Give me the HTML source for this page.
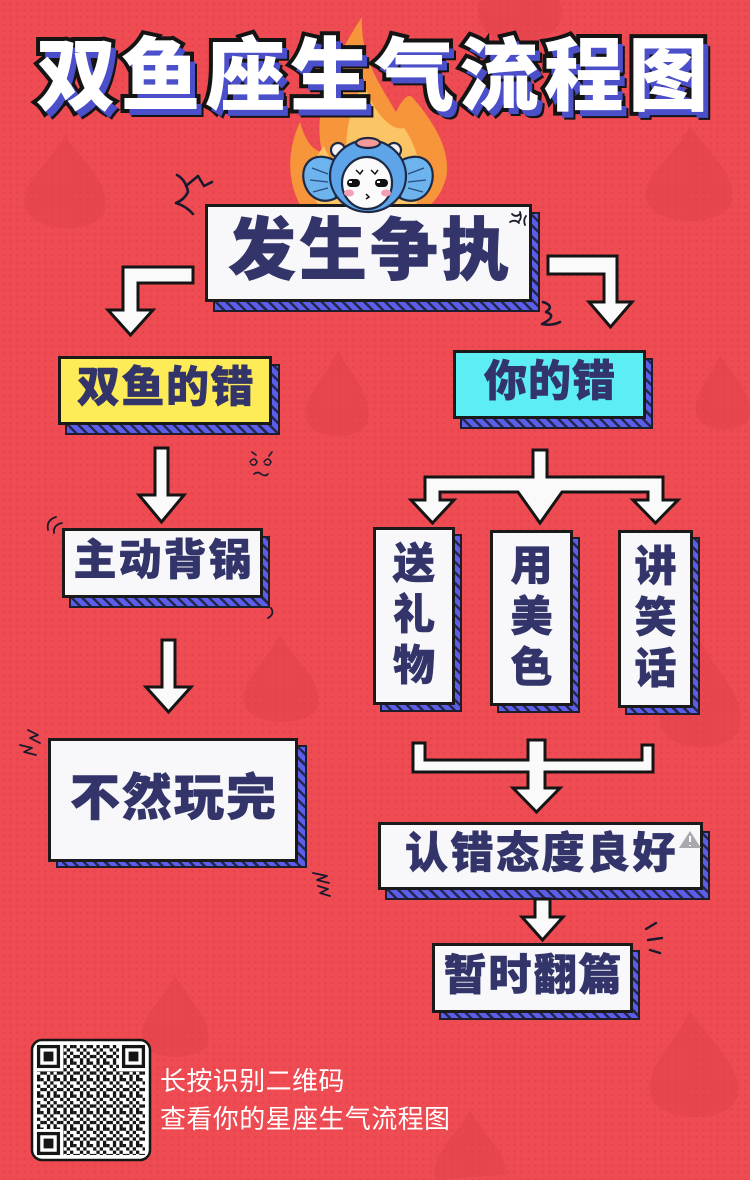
<!DOCTYPE html>
<html><head><meta charset="utf-8">
<style>
*{margin:0;padding:0;box-sizing:border-box}
html,body{width:750px;height:1180px;overflow:hidden}
body{position:relative;background:#EE4B53;font-family:"Liberation Sans","Noto Sans CJK SC",sans-serif}
.dots{position:absolute;left:0;top:0;width:750px;height:1180px;background-image:radial-gradient(circle, rgba(170,25,45,.16) 1px, transparent 1.4px);background-size:7px 7px}
.sh{position:absolute;border:2px solid #1d1d2b;background:repeating-linear-gradient(45deg,#5B5EE8 0 5px,#262650 5px 7.5px)}
.box{position:absolute;border:3px solid #1a1a1a;background:#F8F8FA;display:flex;align-items:center;justify-content:center;color:#33356A;font-weight:900;-webkit-text-stroke:0.6px #33356A;line-height:1;white-space:nowrap}
.box span{display:block;transform:translateY(-2px)}
.vbox{flex-direction:column}
.vbox span{font-size:42px;line-height:51px;height:51px}
svg{position:absolute;left:0;top:0}
.title{position:absolute;left:36px;top:37px;font-size:80px;letter-spacing:4.6px;line-height:1;color:#fff;font-weight:900;-webkit-text-stroke:8px #141414;paint-order:stroke fill;text-shadow:5px 6px 0 #4B4FC9,7px 8px 0 #141414;white-space:nowrap}
.qrt{position:absolute;left:160px;color:#fff;font-size:26px;line-height:1;letter-spacing:0.4px;white-space:nowrap}
</style></head>
<body>
<div class="dots"></div>

<svg width="750" height="1180" viewBox="0 0 750 1180">
  <g fill="#DF414B" opacity="0.42">
    <path d="M65,135 C80,160 110,180 105,210 C100,235 30,235 25,205 C22,180 50,165 65,135Z"/>
    <path d="M690,125 C705,150 735,170 732,200 C728,228 650,228 646,198 C644,172 675,158 690,125Z"/>
    <ellipse cx="520" cy="12" rx="42" ry="32"/>
    <path d="M338,350 C350,375 372,392 368,420 C364,442 310,442 306,418 C303,395 326,378 338,350Z"/>
    <path d="M280,635 C295,660 322,680 318,705 C314,728 248,728 244,702 C241,680 266,662 280,635Z"/>
    <path d="M720,355 C732,375 752,392 750,415 C746,435 700,435 696,412 C694,392 710,378 720,355Z"/>
    <path d="M700,640 C715,670 745,695 740,725 C735,755 665,755 660,722 C657,695 685,675 700,640Z"/>
    <path d="M690,1010 C708,1040 742,1065 738,1095 C733,1125 655,1125 650,1092 C647,1065 675,1045 690,1010Z"/>
    <path d="M470,1110 C482,1135 508,1150 505,1175 L435,1180 C432,1150 458,1135 470,1110Z"/>
    <path d="M175,975 C188,1000 212,1018 208,1042 C204,1062 146,1062 142,1040 C139,1018 162,1002 175,975Z"/>
  </g>
  <path d="M300,205 C286,178 288,148 300,122 C305,140 312,150 322,152 C312,110 332,62 362,17 C360,55 378,82 396,112 C402,100 408,92 413,98 C432,120 452,150 446,178 C442,192 436,200 430,205 Z" fill="#F6953A"/>
  <path d="M318,205 C306,180 314,158 324,146 C330,162 340,168 348,168 C342,134 352,104 364,82 C372,112 392,132 404,128 C416,145 426,172 416,205 Z" fill="#FBC566"/>
</svg>

<div class="title">双鱼座生气流程图</div>

<div class="sh" style="left:213px;top:212px;width:327px;height:100px"></div>
<div class="sh" style="left:65px;top:364px;width:215px;height:71px"></div>
<div class="sh" style="left:69px;top:536px;width:201px;height:72px"></div>
<div class="sh" style="left:56px;top:745px;width:251px;height:123px"></div>
<div class="sh" style="left:460px;top:358px;width:193px;height:71px"></div>
<div class="sh" style="left:380px;top:534px;width:82px;height:178px"></div>
<div class="sh" style="left:497px;top:537px;width:83px;height:176px"></div>
<div class="sh" style="left:625px;top:537px;width:75px;height:178px"></div>
<div class="sh" style="left:385px;top:831px;width:325px;height:69px"></div>
<div class="sh" style="left:439px;top:950px;width:201px;height:70px"></div>

<div class="box" style="left:205px;top:204px;width:327px;height:98px;font-size:68px;letter-spacing:3px;padding-left:3px"><span>发生争执</span></div>
<div class="box" style="left:58px;top:356px;width:214px;height:69px;font-size:43px;letter-spacing:1.5px;background:#FDEB57;padding-left:2px"><span>双鱼的错</span></div>
<div class="box" style="left:62px;top:528px;width:201px;height:70px;font-size:43px;letter-spacing:2px;padding-left:2px"><span>主动背锅</span></div>
<div class="box" style="left:48px;top:738px;width:250px;height:124px;font-size:50px;letter-spacing:2px;padding-left:2px"><span>不然玩完</span></div>
<div class="box" style="left:453px;top:350px;width:193px;height:69px;font-size:43px;letter-spacing:1px;background:#5CEEF2;padding-left:1px"><span>你的错</span></div>
<div class="box vbox" style="left:373px;top:527px;width:82px;height:178px"><span>送</span><span>礼</span><span>物</span></div>
<div class="box vbox" style="left:490px;top:530px;width:83px;height:176px"><span>用</span><span>美</span><span>色</span></div>
<div class="box vbox" style="left:618px;top:530px;width:75px;height:178px"><span>讲</span><span>笑</span><span>话</span></div>
<div class="box" style="left:378px;top:822px;width:325px;height:68px;font-size:43px;letter-spacing:2.5px;padding-left:2px"><span>认错态度良好</span></div>
<div class="box" style="left:432px;top:943px;width:201px;height:70px;font-size:43px;letter-spacing:2px;padding-left:2px"><span>暂时翻篇</span></div>

<svg width="750" height="1180" viewBox="0 0 750 1180">
  <g stroke="#1e2a45" stroke-width="2.2">
    <path d="M334,160 C312,150 300,165 304,182 C308,198 322,205 336,198 Z" fill="#6DB3EE"/>
    <path d="M402,160 C424,150 436,165 432,182 C428,198 414,205 400,198 Z" fill="#6DB3EE"/>
    <circle cx="338" cy="150" r="7" fill="#F3F3F3"/>
    <circle cx="394" cy="150" r="7" fill="#F3F3F3"/>
    <ellipse cx="368" cy="176" rx="38" ry="36" fill="#5DA5E8"/>
    <ellipse cx="368" cy="143" rx="12" ry="5" fill="#F29A9A"/>
    <ellipse cx="367" cy="183" rx="25" ry="26" fill="#FBFBFB"/>
  </g>
  <path d="M312,168 l16,6 M310,180 l18,2 M313,192 l15,-4 M424,168 l-16,6 M426,180 l-18,2 M423,192 l-15,-4" stroke="#2a4a7a" stroke-width="1.3" fill="none"/>
  <g fill="#111">
    <rect x="347" y="179" width="13" height="8" rx="4"/>
    <rect x="375" y="179" width="13" height="8" rx="4"/>
  </g>
  <rect x="349" y="181" width="3" height="2" fill="#fff"/>
  <rect x="377" y="181" width="3" height="2" fill="#fff"/>
  <path d="M356,170 l4,4 l3,-4 M371,170 l4,4 l3,-4 M366,194 l3,3 l-3,2" stroke="#111" stroke-width="1.5" fill="none"/>
  <ellipse cx="349" cy="193" rx="5" ry="3.5" fill="#F4A0B4"/>
  <ellipse cx="386" cy="193" rx="5" ry="3.5" fill="#F4A0B4"/>

  <g fill="#FAFAFA" stroke="#151515" stroke-width="3" stroke-linejoin="miter">
    <polygon points="123,267 193,267 193,283 138,283 138,310 153,310 130.5,335 108,310 123,310"/>
    <polygon points="548,256 617,256 617,302 632,302 610.5,327 589,302 604,302 604,274 548,274"/>
    <polygon points="155,448 168,448 168,495 184,495 161.5,522 139,495 155,495"/>
    <polygon points="162,640 175,640 175,687 191,687 168.5,712 146,687 162,687"/>
    <polygon points="533,450 547,450 547,477 663,477 663,500 678,500 655.5,523 633,500 648,500 648,492 562,492 540,523 518,492 440,492 440,500 454,500 432.5,523 411,500 425,500 425,477 533,477"/>
    <polygon points="413,743 425,743 425,760 528,760 528,740 545,740 545,760 642,760 642,745 653,745 653,772 545,772 545,788 560,788 536.5,812 513,788 528,788 528,772 413,772"/>
    <polygon points="535,899 550,899 550,917 563,917 542.5,940 522,917 535,917"/>
  </g>

  <g stroke="#1a1a2e" stroke-width="2.6" fill="none" stroke-linecap="round" stroke-linejoin="round">
    <path d="M177,175 Q186,180 188,192 Q184,200 176,203 Q186,206 193,214"/>
    <path d="M186,186 L198,176 L204,186 L212,182"/>
    <path d="M543,302 q12,4 3,10 q12,4 -4,12 q10,2 18,-2"/>
    <path d="M512,214 q4,4 8,0 M510,222 q5,-3 9,1 M520,212 q2,6 -1,9 M526,216 q-3,4 -1,9" stroke-width="1.8"/>
    <path d="M48,530 q-2,-10 8,-13 M54,533 q-1,-8 8,-10" stroke-width="1.8"/>
    <path d="M271,608 q4,6 -3,10" stroke-width="1.8"/>
    <path d="M250,462 q4,-6 7,0 q-2,5 -6,2 M264,462 q4,-6 7,0 q-2,5 -6,2 M254,474 q4,-3 7,0 q4,3 7,0 M252,452 l4,3 M272,452 l-3,4" stroke-width="1.6"/>
    <path d="M28,730 l10,5 l-8,3 l10,5 M20,745 l12,3 l-8,4 l12,3" stroke-width="1.8"/>
    <path d="M313,873 l14,3 l-10,4 l12,3 M318,886 l10,3 l-8,4 l10,3" stroke-width="1.8"/>
    <path d="M646,929 l10,-6 M648,940 l14,-2 M650,950 l10,3" stroke-width="2.4"/>
  </g>
  <path d="M690,831 L701,848 L679,848 Z" fill="#A8A8AE"/>
  <path d="M690,836 v6 M690,845 v1" stroke="#fff" stroke-width="2"/>

  <defs>
    <pattern id="qr" width="16.5" height="16.5" patternUnits="userSpaceOnUse" x="37" y="1045">
      <g fill="#151515">
        <rect x="0" y="0" width="3.3" height="3.3"/><rect x="3.3" y="0" width="3.3" height="3.3"/><rect x="9.9" y="0" width="3.3" height="3.3"/>
        <rect x="6.6" y="3.3" width="3.3" height="3.3"/><rect x="13.2" y="3.3" width="3.3" height="3.3"/>
        <rect x="0" y="6.6" width="3.3" height="3.3"/><rect x="9.9" y="6.6" width="3.3" height="3.3"/>
        <rect x="3.3" y="9.9" width="3.3" height="3.3"/><rect x="6.6" y="9.9" width="3.3" height="3.3"/><rect x="13.2" y="9.9" width="3.3" height="3.3"/>
        <rect x="0" y="13.2" width="3.3" height="3.3"/><rect x="9.9" y="13.2" width="3.3" height="3.3"/>
      </g>
    </pattern>
  </defs>
  <rect x="32" y="1040" width="118" height="120" rx="10" fill="#fff" stroke="#151515" stroke-width="2.5"/>
  <rect x="37" y="1045" width="108" height="110" fill="url(#qr)"/>
  <g>
    <rect x="36" y="1044" width="27" height="27" fill="#fff"/>
    <rect x="119" y="1044" width="27" height="27" fill="#fff"/>
    <rect x="36" y="1129" width="27" height="27" fill="#fff"/>
    <g fill="none" stroke="#151515" stroke-width="3.3">
      <rect x="38.6" y="1046.6" width="19.8" height="19.8"/>
      <rect x="123.6" y="1046.6" width="19.8" height="19.8"/>
      <rect x="38.6" y="1133.6" width="19.8" height="19.8"/>
    </g>
    <g fill="#151515">
      <rect x="43.6" y="1051.6" width="9.8" height="9.8"/>
      <rect x="128.6" y="1051.6" width="9.8" height="9.8"/>
      <rect x="43.6" y="1138.6" width="9.8" height="9.8"/>
    </g>
  </g>
</svg>

<div class="qrt" style="top:1068px">长按识别二维码</div>
<div class="qrt" style="top:1106px">查看你的星座生气流程图</div>
</body></html>
